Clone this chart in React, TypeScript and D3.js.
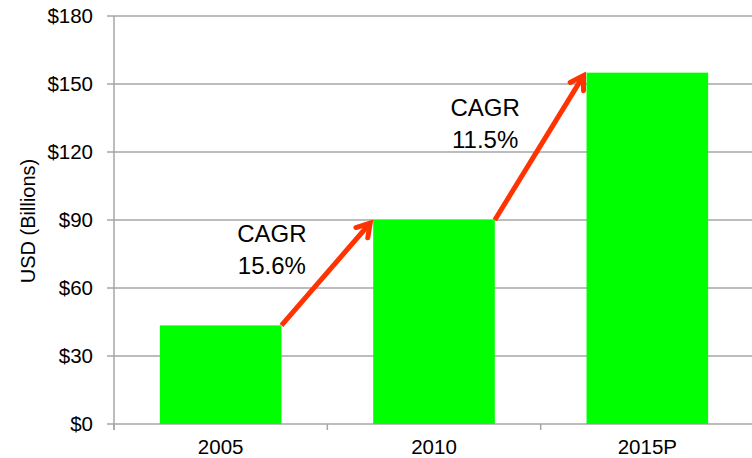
import React from "react";
import * as d3 from "d3";

const categories = ["2005", "2010", "2015P"];
const values = [43.5, 90, 155];
const yTicks = [0, 30, 60, 90, 120, 150, 180];
const cagrLabels = ["15.6%", "11.5%"];

const W = 752;
const H = 458;
const FONT = "'Liberation Sans', Arial, sans-serif";

export default function App() {
  const x = d3.scaleBand<string>().domain(categories).range([114, 754]).paddingInner(0.43).paddingOuter(0.215);
  const y = d3.scaleLinear().domain([0, 180]).range([424, 16]);
  const bw = x.bandwidth();
  const step = x.step();
  const grid = "#A6A6A6";
  const arrowColor = "#FF3300";

  const arrows = values.slice(0, -1).map((v, i) => {
    const x1 = (x(categories[i]) as number) + bw;
    const y1 = y(v);
    const x2 = (x(categories[i + 1]) as number) - 3;
    const y2 = y(values[i + 1]) + 3;
    const ang = Math.atan2(y2 - y1, x2 - x1);
    const hl = 15;
    const spread = 0.55;
    const h1 = [x2 - hl * Math.cos(ang - spread), y2 - hl * Math.sin(ang - spread)];
    const h2 = [x2 - hl * Math.cos(ang + spread), y2 - hl * Math.sin(ang + spread)];
    const mx = (x1 + x2) / 2 - 54;
    const my = (y1 + y2) / 2 - 32;
    return { x1, y1, x2, y2, h1, h2, mx, my, label: cagrLabels[i] };
  });

  const bandEdges = categories.map((c) => (x(c) as number) - (step - bw) / 2).concat([754]);

  return (
    <svg width={W} height={H} style={{ position: "absolute", left: 0, top: 0 }} fontFamily={FONT}>
      {yTicks.map((t) => (
        <g key={t}>
          <line x1={107} x2={W} y1={y(t)} y2={y(t)} stroke={grid} strokeWidth={1.5} />
          <text x={93} y={y(t) + 7} textAnchor="end" fontSize={20.5} fill="#000">
            {"$" + t}
          </text>
        </g>
      ))}
      <line x1={114} x2={114} y1={16} y2={430} stroke={grid} strokeWidth={1.5} />
      {bandEdges.map((e, i) => (
        <line key={i} x1={e} x2={e} y1={424} y2={430} stroke={grid} strokeWidth={1.5} />
      ))}
      {categories.map((c, i) => (
        <rect key={c} x={x(c)} y={y(values[i])} width={bw} height={y(0) - y(values[i])} fill="#00FF00" />
      ))}
      {categories.map((c) => (
        <text key={c} x={(x(c) as number) + bw / 2} y={454} textAnchor="middle" fontSize={20.5} fill="#000">
          {c}
        </text>
      ))}
      <text transform={`translate(35,221) rotate(-90)`} textAnchor="middle" fontSize={20} fill="#000">
        USD (Billions)
      </text>
      {arrows.map((a, i) => (
        <g key={i}>
          <line x1={a.x1} y1={a.y1} x2={a.x2} y2={a.y2} stroke={arrowColor} strokeWidth={5} strokeLinecap="butt" />
          <polyline
            points={`${a.h1[0]},${a.h1[1]} ${a.x2},${a.y2} ${a.h2[0]},${a.h2[1]}`}
            fill="none"
            stroke={arrowColor}
            strokeWidth={5}
            strokeLinejoin="miter"
            strokeLinecap="round"
          />
          <text x={a.mx} y={a.my} textAnchor="middle" fontSize={24} fill="#000">
            CAGR
          </text>
          <text x={a.mx} y={a.my + 32} textAnchor="middle" fontSize={24} fill="#000">
            {a.label}
          </text>
        </g>
      ))}
    </svg>
  );
}
